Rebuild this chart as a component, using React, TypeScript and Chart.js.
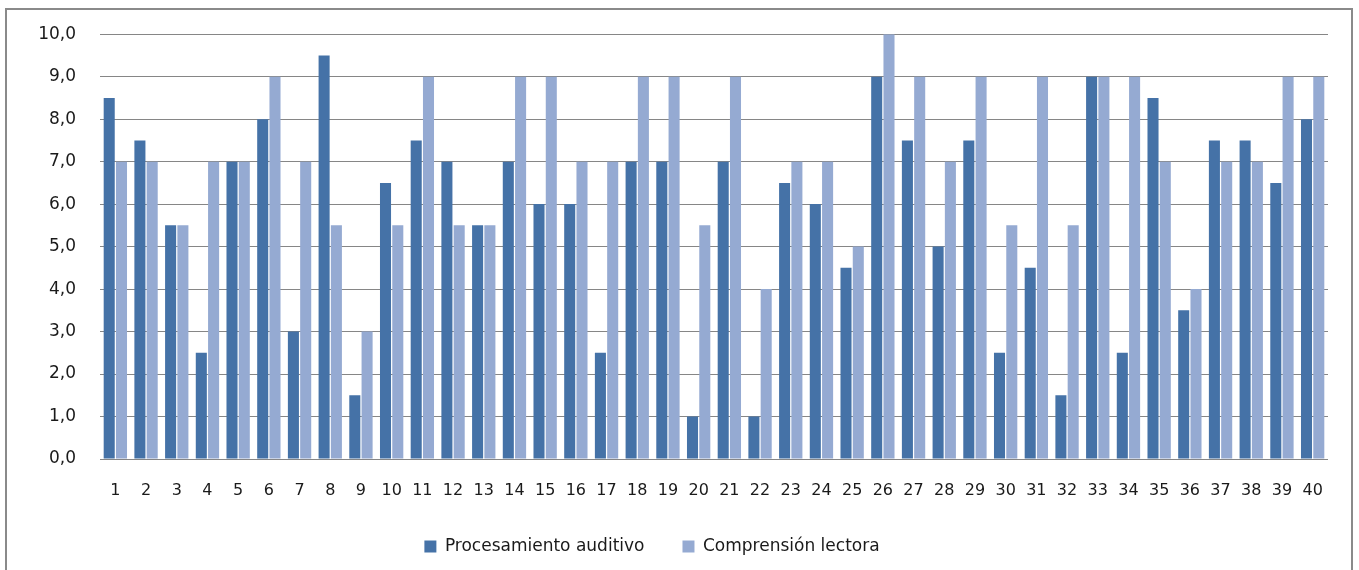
import React, { useEffect, useRef } from 'react';
import { Chart, registerables } from 'chart.js';

Chart.register(...registerables);

const categories = ['1', '2', '3', '4', '5', '6', '7', '8', '9', '10', '11', '12', '13', '14', '15', '16', '17', '18', '19', '20', '21', '22', '23', '24', '25', '26', '27', '28', '29', '30', '31', '32', '33', '34', '35', '36', '37', '38', '39', '40'];
const procesamientoAuditivo = [8.5, 7.5, 5.5, 2.5, 7, 8, 3, 9.5, 1.5, 6.5, 7.5, 7, 5.5, 7, 6, 6, 2.5, 7, 7, 1, 7, 1, 6.5, 6, 4.5, 9, 7.5, 5, 7.5, 2.5, 4.5, 1.5, 9, 2.5, 8.5, 3.5, 7.5, 7.5, 6.5, 8];
const comprensionLectora = [7, 7, 5.5, 7, 7, 9, 7, 5.5, 3, 5.5, 9, 5.5, 5.5, 9, 9, 7, 7, 9, 9, 5.5, 9, 4, 7, 7, 5, 10, 9, 7, 9, 5.5, 9, 5.5, 9, 9, 7, 4, 7, 7, 9, 9];
const seriesNames = ['Procesamiento auditivo', 'Comprensión lectora'];
const yMin = 0;
const yMax = 10;
const yStep = 1;

const FONT = "'DejaVu Sans', Verdana, sans-serif";

const legendShift = {
  id: 'legendShift',
  afterLayout(chart: any) {
    const lg = chart.legend;
    if (lg) {
      lg.left -= 12;
      lg.right -= 12;
    }
  },
};

export default function App() {
  const ref = useRef<HTMLCanvasElement | null>(null);
  useEffect(() => {
    if (!ref.current) return;
    const chart = new Chart(ref.current, {
      type: 'bar',
      data: {
        labels: categories,
        datasets: [
          {
            label: seriesNames[0],
            data: procesamientoAuditivo,
            backgroundColor: '#4572A7',
            barPercentage: 0.9,
            categoryPercentage: 0.8,
          },
          {
            label: seriesNames[1],
            data: comprensionLectora,
            backgroundColor: '#95AAD2',
            barPercentage: 0.9,
            categoryPercentage: 0.8,
          },
        ],
      },
      plugins: [legendShift],
      options: {
        animation: false,
        responsive: false,
        maintainAspectRatio: false,
        layout: { padding: { left: 0, right: 31, top: 33, bottom: 5 } },
        plugins: {
          tooltip: { enabled: false },
          legend: {
            display: true,
            position: 'bottom',
            labels: {
              boxWidth: 12,
              boxHeight: 12,
              padding: 38,
              color: '#1a1a1a',
              font: { family: FONT, size: 17 },
            },
          },
        },
        scales: {
          x: {
            grid: { display: false, drawTicks: false },
            border: { display: false },
            ticks: {
              color: '#1a1a1a',
              font: { family: FONT, size: 16 },
              padding: 22,
              maxRotation: 0,
              autoSkip: false,
            },
            afterFit(s: any) {
              s.height = 41;
            },
          },
          y: {
            min: yMin,
            max: yMax,
            grid: { color: '#868686', lineWidth: 1, drawTicks: false },
            border: { display: false },
            ticks: {
              stepSize: yStep,
              color: '#1a1a1a',
              font: { family: FONT, size: 17 },
              padding: 24,
              callback: (v: any) => Number(v).toFixed(1).replace('.', ','),
            },
            afterFit(s: any) {
              s.width = 100;
            },
          },
        },
      },
    } as any);
    return () => chart.destroy();
  }, []);

  return (
    <div style={{ position: 'absolute', left: 0, top: 0, width: 1359, height: 570, background: '#fff', overflow: 'hidden' }}>
      <div
        style={{
          position: 'absolute',
          left: 5,
          top: 8,
          width: 1348,
          height: 580,
          border: '2px solid #8a8a8a',
          boxSizing: 'border-box',
        }}
      />
      <canvas ref={ref} width={1359} height={570} style={{ position: 'absolute', left: 0, top: 0, width: 1359, height: 570 }} />
    </div>
  );
}
